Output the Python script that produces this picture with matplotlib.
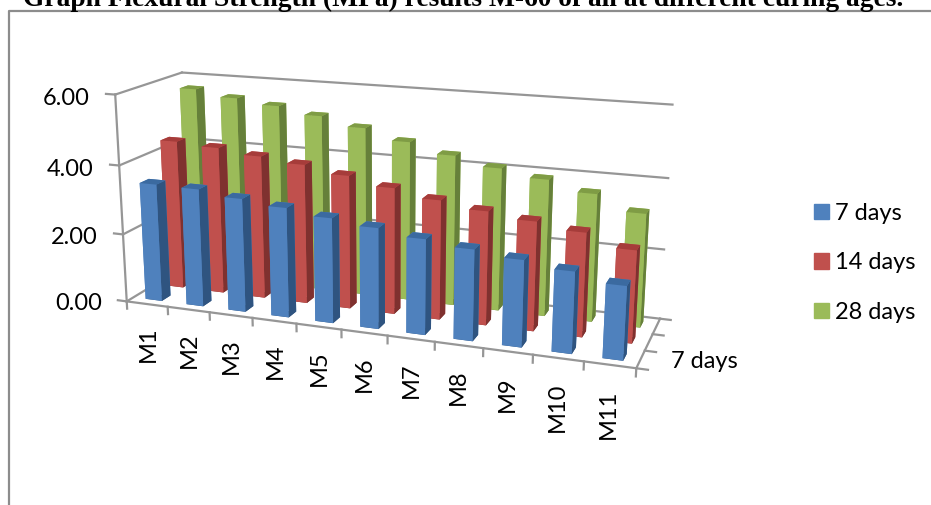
import matplotlib
matplotlib.use('Agg')
import matplotlib.pyplot as plt
from matplotlib.patches import Patch
from mpl_toolkits.mplot3d import proj3d

materiales = ['M1', 'M2', 'M3', 'M4', 'M5', 'M6', 'M7', 'M8', 'M9', 'M10', 'M11']
series = ['7 days', '14 days', '28 days']
dias_7 = [3.44, 3.42, 3.27, 3.14, 2.98, 2.84, 2.67, 2.53, 2.39, 2.23, 2.00]
dias_14 = [4.40, 4.32, 4.18, 4.05, 3.85, 3.62, 3.40, 3.22, 3.07, 2.90, 2.56]
dias_28 = [5.70, 5.52, 5.38, 5.18, 4.93, 4.63, 4.35, 4.10, 3.90, 3.62, 3.20]
ticks_z = [0, 2, 4, 6]

# cara frontal, cara superior, cara lateral
colores = [('#4F81BD', '#3B6AA0', '#2F5480'),
           ('#C0504D', '#A63C3A', '#7F312F'),
           ('#9BBB59', '#7F9C45', '#66803A')]
gris = '#969696'
tam = 17

plt.rcParams['font.family'] = ['Lato', 'DejaVu Sans']
W, H = 931, 505
fig = plt.figure(figsize=(W / 100, H / 100), dpi=100, facecolor='white')

# Capa 2D para el marco y el titulo
fondo = fig.add_axes([0, 0, 1, 1])
fondo.set_xlim(0, W)
fondo.set_ylim(H, 0)
fondo.axis('off')
fondo.plot([8.5, 8.5, W], [H, 11, 11], color='#8C8C8C', lw=1.6, clip_on=False)
fondo.text(463.5, 6, 'Graph Flexural Strength (MPa) results M-60 of all at different curing ages.',
           family='Liberation Serif', weight='bold', fontsize=19.8, ha='center', va='baseline')

# Vista 3D de columnas
lado = 572
cx, cy = 388.5, 207
izq = cx - 0.5135 * lado
abajo = H - (cy + 0.5135 * lado)
ax = fig.add_axes([izq / W, abajo / H, lado / W, lado / H], projection='3d')
ax.patch.set_alpha(0)
ax.computed_zorder = False
ax.set_proj_type('persp', focal_length=0.43)
ax.view_init(elev=15.5, azim=-70)
ax.set_box_aspect((1, 0.26, 0.412))
n = len(materiales)
ax.set_xlim(0, n, view_margin=0)
ax.set_ylim(0, 3, view_margin=0)
ax.set_zlim(0, 6, view_margin=0)
ax.set_axis_off()


def etiqueta(x, y, z, texto, **kwargs):
    # texto recto en pantalla, anclado a un punto del espacio 3D
    px, py, _ = proj3d.proj_transform(x, y, z, ax.get_proj())
    ax.text2D(px, py, texto, transform=ax.transData, fontsize=tam, zorder=50, clip_on=False, **kwargs)


lw = 1.6
# Paredes: lineas de division
for z in ticks_z:
    ax.plot([0, n], [3, 3], [z, z], color=gris, lw=lw, zorder=1, clip_on=False)
    ax.plot([0, 0], [0, 3], [z, z], color=gris, lw=lw, zorder=1, clip_on=False)
    ax.plot([-0.22, 0], [0, 0], [z, z], color=gris, lw=lw, zorder=1, clip_on=False)
    etiqueta(-0.62, 0, z - 0.17, f'{z:.2f}', ha='right', va='center')
ax.plot([0, 0], [0, 0], [0, 6], color=gris, lw=lw, zorder=1, clip_on=False)

# Piso: eje frontal y eje de profundidad
ax.plot([0, n], [0, 0], [0, 0], color=gris, lw=lw, zorder=1, clip_on=False)
ax.plot([n, n], [0, 3], [0, 0], color=gris, lw=lw, zorder=1, clip_on=False)
for i in range(n + 1):
    ax.plot([i, i], [0, 0], [0, -0.22], color=gris, lw=lw, zorder=1, clip_on=False)
for s in range(4):
    ax.plot([n, n + 0.22], [s, s], [0, 0], color=gris, lw=lw, zorder=1, clip_on=False)

for i, nombre in enumerate(materiales):
    etiqueta(i + 0.5, 0, -0.68, nombre, rotation=90, ha='center', va='top')
etiqueta(n + 0.58, 0.5, 0.06, series[0], ha='left', va='center')

# Columnas: de atras hacia adelante y de izquierda a derecha
ancho = 0.4
valores = [dias_7, dias_14, dias_28]
orden = 2
for s in [2, 1, 0]:
    frente, arriba, costado = colores[s]
    for i in range(n):
        # orden de caras de bar3d: abajo, arriba, frente, fondo, izquierda, derecha
        caras = [costado, arriba, frente, frente, frente, costado]
        ax.bar3d(i + 0.3, s + 0.3, 0, ancho, ancho, valores[s][i], color=caras,
                 shade=False, zorder=orden)
        orden += 1

manijas = [Patch(color=colores[k][0]) for k in range(3)]
fig.legend(manijas, series, loc='upper left', bbox_to_anchor=(795 / W, 1 - 184 / H), frameon=False,
           fontsize=tam, handlelength=0.63, handleheight=0.63, handletextpad=0.25, labelspacing=1.2,
           borderpad=0.3)

fig.savefig('out.png', dpi=100)
